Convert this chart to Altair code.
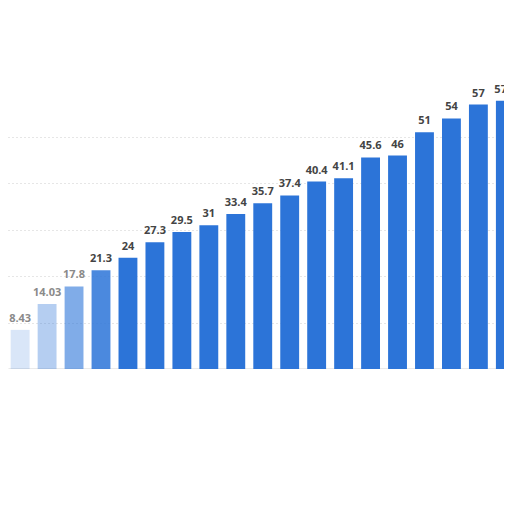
import altair as alt
import pandas as pd

positions = list(range(19))
values = [8.43, 14.03, 17.8, 21.3, 24, 27.3, 29.5, 31, 33.4, 35.7, 37.4, 40.4, 41.1, 45.6, 46, 51, 54, 57, 57.8]
labels = ["8.43", "14.03", "17.8", "21.3", "24", "27.3", "29.5", "31", "33.4", "35.7", "37.4", "40.4", "41.1", "45.6", "46", "51", "54", "57", "57.8"]
grid_values = [10, 20, 30, 40, 50]

df = pd.DataFrame({"i": positions, "v": values, "label": labels})

xscale = alt.Scale(domain=[-0.45, 17.95], nice=False, zero=False)
yscale = alt.Scale(domain=[0, 77.8], nice=False)

base = alt.Chart(df)

fade = "datum.i == 0 ? 0.18 : datum.i == 1 ? 0.35 : datum.i == 2 ? 0.6 : datum.i == 3 ? 0.85 : 1"

bars = base.transform_calculate(
    x0="datum.i - 0.35", x1="datum.i + 0.35", op=fade
).mark_bar(color="#2c74d8", clip=True).encode(
    x=alt.X("x0:Q", scale=xscale,
            axis=alt.Axis(labels=False, ticks=False, grid=False, title=None,
                          domainColor="#aaaaaa", domainWidth=1.5)),
    x2="x1:Q",
    y=alt.Y("v:Q", scale=yscale,
            axis=alt.Axis(labels=False, ticks=False, domain=False, title=None,
                          values=grid_values, grid=True, gridColor="#cccccc",
                          gridDash=[1, 3], gridWidth=1)),
    y2=alt.datum(0),
    opacity=alt.Opacity("op:Q", scale=None, legend=None),
)

text = base.transform_calculate(
    tc="datum.i < 3 ? '#8a8a8a' : '#444444'"
).mark_text(
    baseline="bottom", dy=-6, fontSize=11, fontWeight="bold",
    font="Open Sans", clip=True
).encode(
    x=alt.X("i:Q", scale=xscale),
    y=alt.Y("v:Q", scale=yscale),
    text="label:N",
    color=alt.Color("tc:N", scale=None, legend=None),
)

chart = alt.layer(bars, text).properties(
    width=496, height=361, padding=0, autosize="none"
).configure_view(stroke=None)

chart.save("out.html", embed_options={"renderer": "svg", "actions": False})
